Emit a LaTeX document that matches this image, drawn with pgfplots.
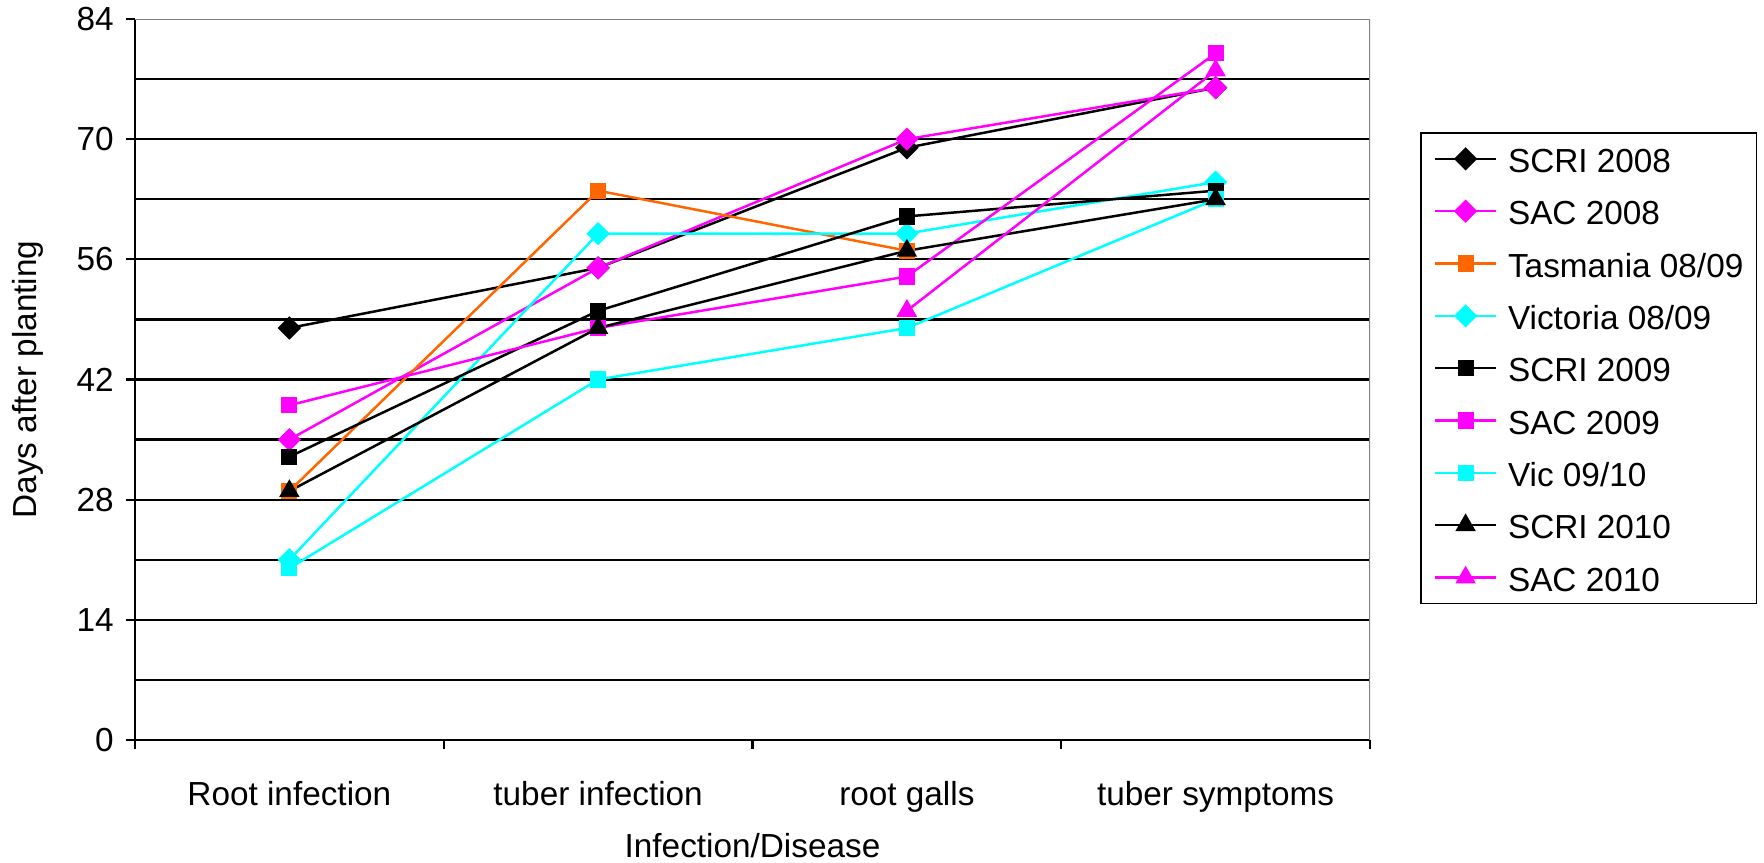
\documentclass[border=0pt]{standalone}
\usepackage{pgfplots}
\pgfplotsset{compat=1.18}
\usepackage{fontspec}
\setmainfont{Liberation Sans}

\definecolor{xlmag}{RGB}{255,0,255}
\definecolor{xlcyan}{RGB}{0,255,255}
\definecolor{xlorange}{RGB}{255,102,0}

\pgfplotsset{
  dmd/.style={mark=square*, mark size=2.1pt, mark options={rotate=45, solid}},
  sqr/.style={mark=square*, mark size=2.05pt, mark options={solid}},
  tri/.style={mark=triangle*, mark size=2.8pt, mark options={solid}},
}

\begin{document}
\begin{tikzpicture}
\useasboundingbox (0,0) rectangle (529.2pt,258.9pt);
\begin{axis}[
  at={(40.5pt,36.9pt)}, anchor=south west,
  scale only axis, width=370.5pt, height=216.3pt,
  xmin=-0.5, xmax=3.5, ymin=0, ymax=84,
  axis lines=left,
  axis line style={-, black, line width=0.65pt},
  font=\fontsize{10}{12}\selectfont,
  /pgf/number format/assume math mode=true,
  tick align=outside,
  major tick length=2.7pt,
  tick style={black, line width=0.65pt},
  xtick={-0.5,0.5,1.5,2.5,3.5},
  x tick label as interval,
  xticklabels={Root infection, tuber infection, root galls, tuber symptoms},
  xticklabel style={yshift=-6pt},
  ytick={0,14,...,84},
  extra y ticks={7,14,21,28,35,42,49,56,63,70,77},
  extra y tick labels={},
  extra y tick style={grid=major, major tick length=0pt},
  major grid style={black, line width=0.65pt},
  xlabel={Infection/Disease},
  ylabel={Days after planting},
  every axis x label/.style={at={(axis description cs:0.5,-0.147)}, anchor=center},
  every axis y label/.style={at={(axis description cs:-0.0866,0.5)}, rotate=90, anchor=center},
  line width=0.75pt,
  legend image code/.code={\draw[line width=0.75pt, mark repeat=2, mark phase=2] plot coordinates {(0pt,0pt) (9.15pt,0pt) (18.3pt,0pt)};},
  legend cell align=left,
  legend style={
    at={(1.0405,0.843)}, anchor=north west,
    draw=black, line width=0.5pt,
    font=\fontsize{10}{12}\selectfont,
    inner xsep=3.9pt, inner ysep=3pt,
    row sep=6.2pt, column sep=3.2pt,
    nodes={inner sep=0pt, text height=8.8pt, text depth=0.7pt},
  },
]
\addplot[black, dmd] coordinates {(0,48) (1,55) (2,69) (3,76)};
\addlegendentry{SCRI 2008}
\addplot[xlmag, dmd] coordinates {(0,35) (1,55) (2,70) (3,76)};
\addlegendentry{SAC 2008}
\addplot[xlorange, sqr] coordinates {(0,29) (1,64) (2,57)};
\addlegendentry{Tasmania 08/09}
\addplot[xlcyan, dmd] coordinates {(0,21) (1,59) (2,59) (3,65)};
\addlegendentry{Victoria 08/09}
\addplot[black, sqr] coordinates {(0,33) (1,50) (2,61) (3,64)};
\addlegendentry{SCRI 2009}
\addplot[xlmag, sqr] coordinates {(0,39) (1,48) (2,54) (3,80)};
\addlegendentry{SAC 2009}
\addplot[xlcyan, sqr] coordinates {(0,20) (1,42) (2,48) (3,63)};
\addlegendentry{Vic 09/10}
\addplot[black, tri] coordinates {(0,29) (1,48) (2,57) (3,63)};
\addlegendentry{SCRI 2010}
\addplot[xlmag, tri] coordinates {(2,50) (3,78)};
\addlegendentry{SAC 2010}
% light frame on the top and right of the plot area
\draw[gray, line width=0.5pt] (rel axis cs:0,1) -- (rel axis cs:1,1) -- (rel axis cs:1,0);
\end{axis}
\end{tikzpicture}
\end{document}
